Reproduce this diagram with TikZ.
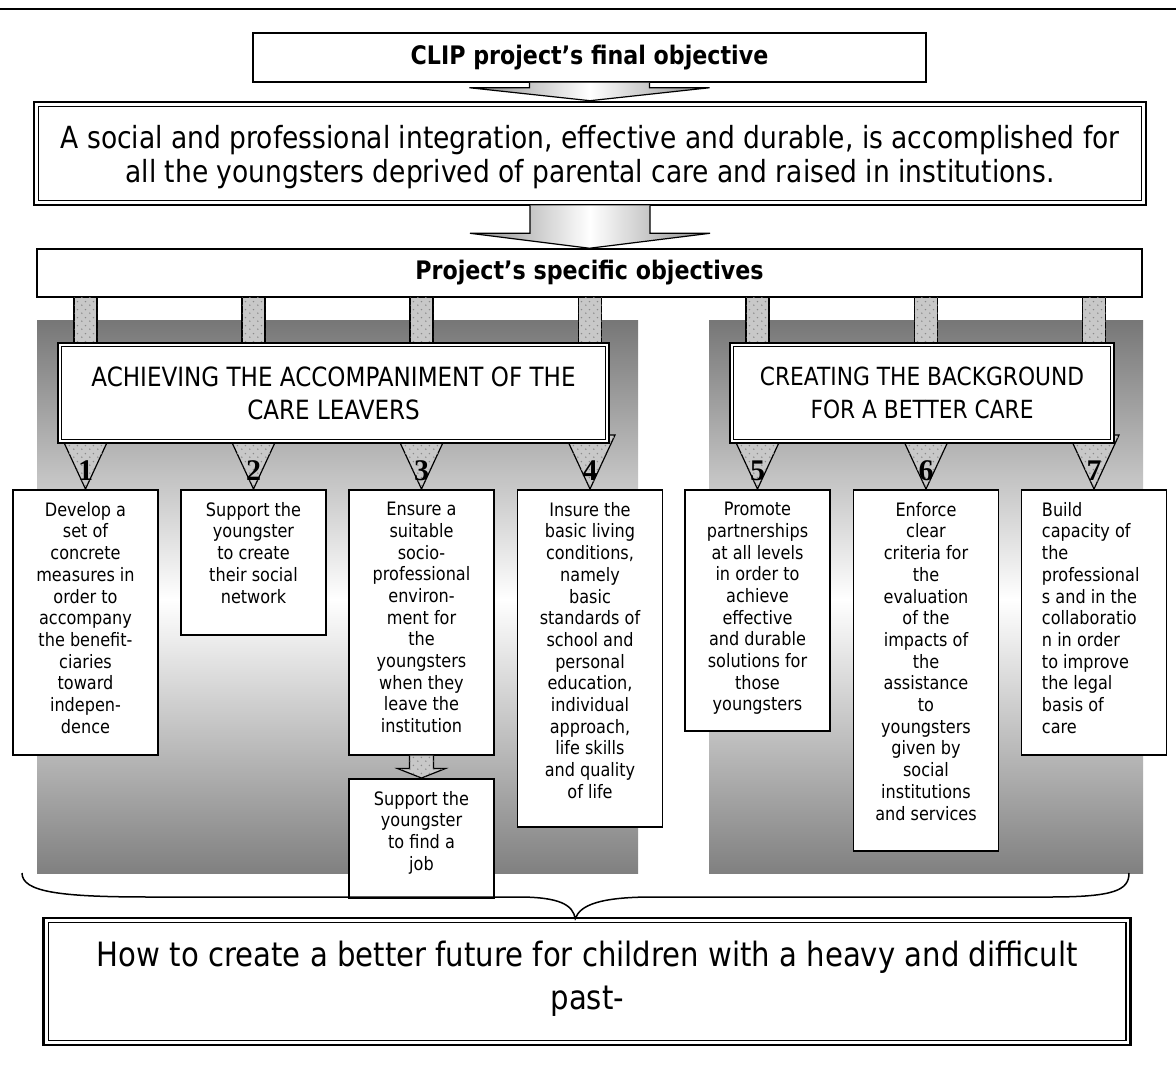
\documentclass[tikz,border=0pt]{standalone}
\usepackage{fontspec}
\setmainfont{DejaVu Sans}[FakeStretch=0.87]
\newfontfamily\digitfont{Liberation Serif}
\usetikzlibrary{calc,patterns.meta}

\definecolor{panelgray}{HTML}{777777}
\definecolor{panelbottom}{HTML}{808080}
\definecolor{dotbase}{HTML}{C8C8C8}
\definecolor{dotink}{HTML}{8A8A8A}
\definecolor{arrowedge}{HTML}{8C8C8C}

% sparse staggered dots used inside the small connectors
\tikzdeclarepattern{
  name=sparsedots,
  type=uncolored,
  bounding box={(0pt,0pt) and (8pt,8pt)},
  tile size={(8pt,8pt)},
  code={
    \pgfpathcircle{\pgfpoint{2pt}{2pt}}{0.9pt}
    \pgfpathcircle{\pgfpoint{6pt}{6pt}}{0.9pt}
    \pgfusepath{fill}
  }
}

\tikzset{
  plainbox/.style={draw, line width=1.5pt, fill=white, inner sep=0pt},
  frameouter/.style={draw, line width=2.6pt, fill=white, inner sep=0pt},
  frameinner/.style={draw, line width=1.2pt},
  boxtext/.style={inner sep=0pt, align=center, font=\fontsize{18.5}{21.7}\selectfont},
  titletext/.style={font=\fontsize{25.5}{30}\selectfont\bfseries},
  headtext/.style={align=center, font=\fontsize{26.5}{33}\selectfont},
  dotfill/.style={fill=dotbase, postaction={pattern=sparsedots, pattern color=dotink}},
  dotedge/.style={dotfill, draw, line width=1.2pt},
  fatarrow/.style={left color=arrowedge, right color=arrowedge, middle color=white, draw, line width=1.2pt},
  digit/.style={inner sep=0pt, font=\fontsize{30}{30}\digitfont\bfseries}
}

\newcommand{\innerframe}[2]{%
  \draw[frameinner] ([shift={(#2,#2)}]#1.north west) rectangle ([shift={(-#2,-#2)}]#1.south east);}

\begin{document}
\begin{tikzpicture}[x=1pt,y=-1pt]
\useasboundingbox (0,0) rectangle (1176,1075);
\fill[white] (0,0) rectangle (1176,1075);

% rule across the top
\draw[line width=2pt] (0,9) -- (1176,9);

% shaded panels behind the two groups
\shade[top color=panelgray, bottom color=white] (37,321) rectangle (638,600);
\shade[top color=white, bottom color=panelbottom] (37,599.5) rectangle (638,873);
\shade[top color=panelgray, bottom color=white] (709,321) rectangle (1143,600);
\shade[top color=white, bottom color=panelbottom] (709,599.5) rectangle (1143,873);

% final objective
\node[plainbox, titletext, minimum width=673pt, minimum height=49pt] (clip) at (589.5,57.5)
  {CLIP project’s final objective};
\node[frameouter, minimum width=1112pt, minimum height=103pt] (goal) at (590,153.5) {};
\innerframe{goal}{6}
\node[inner sep=0pt, align=center, font=\fontsize{30.5}{34}\selectfont] (goaltext)
  at ($(goal.center)+(0,4)$)
  {A social and professional integration, effective and durable, is accomplished for\\
   all the youngsters deprived of parental care and raised in institutions.};
\node[plainbox, titletext, minimum width=1105pt, minimum height=48pt] (spec) at (589.5,273)
  {Project’s specific objectives};

% wide shaded arrows
\shadedraw[fatarrow] ($(clip.south)+(-60,0)$) -- ($(clip.south)+(-60,5)$) -- ($(clip.south)+(-120,5)$)
  -- (goal.north) -- ($(clip.south)+(120,5)$) -- ($(clip.south)+(60,5)$) -- ($(clip.south)+(60,0)$);
\shadedraw[fatarrow] ($(goal.south)+(-60,-1)$) -- ($(goal.south)+(-60,27)$) -- ($(goal.south)+(-120,27)$)
  -- (spec.north) -- ($(goal.south)+(120,27)$) -- ($(goal.south)+(60,27)$) -- ($(goal.south)+(60,-1)$);

% objective boxes
\node[plainbox, minimum width=145pt, minimum height=265pt, anchor=north] (o1) at (85.5,489) {};
\node[plainbox, minimum width=145pt, minimum height=145pt, anchor=north] (o2) at (253.5,489) {};
\node[plainbox, minimum width=145pt, minimum height=265pt, anchor=north] (o3) at (421.5,489) {};
\node[plainbox, minimum width=145pt, minimum height=337pt, anchor=north] (o4) at (590,489) {};
\node[plainbox, minimum width=145pt, minimum height=241pt, anchor=north] (o5) at (757.5,489) {};
\node[plainbox, minimum width=145pt, minimum height=361pt, anchor=north] (o6) at (926,489) {};
\node[plainbox, minimum width=145pt, minimum height=265pt, anchor=north] (o7) at (1094,489) {};
\node[plainbox, minimum width=145pt, minimum height=119pt, anchor=north] (job) at (421.5,778) {};

% group header positions (the headers are drawn after their stems and triangles)
\coordinate (hlc) at (333.5,393);
\coordinate (hrc) at (922,393);
\path (hlc) ++(0,-50) coordinate (hltop) ++(0,100) coordinate (hlbot);
\path (hrc) ++(0,-50) coordinate (hrtop) ++(0,100) coordinate (hrbot);

% stems from the specific objectives bar
\foreach \o/\t in {o1/hltop,o2/hltop,o3/hltop,o4/hltop,o5/hrtop,o6/hrtop,o7/hrtop}{
  \path[dotedge] ($(spec.south -| \o.north)+(-11.5,0)$) rectangle ($(\t -| \o.north)+(11.5,0)$);
}
% numbered triangles
\foreach \o/\t in {o1/hlbot,o2/hlbot,o3/hlbot,o4/hlbot,o5/hrbot,o6/hrbot,o7/hrbot}{
  \path[dotedge] ($(\t -| \o.north)+(-25,-8)$) -- ($(\t -| \o.north)+(25,-8)$) -- (\o.north) -- cycle;
}

\node[frameouter, headtext, minimum width=551pt, minimum height=100pt] (hleft) at (hlc)
  {ACHIEVING THE ACCOMPANIMENT OF THE\\CARE LEAVERS};
\innerframe{hleft}{5}
\node[frameouter, headtext, font=\fontsize{25}{33}\selectfont, minimum width=384pt, minimum height=100pt] (hright) at (hrc)
  {CREATING THE BACKGROUND\\FOR A BETTER CARE};
\innerframe{hright}{5}

% numbers
\foreach \o/\n in {o1/1,o2/2,o3/3,o4/4,o5/5,o6/6,o7/7}{
  \node[digit] (n\n) at ($(\o.north)+(0,-18)$) {\n};
}

% box texts
\node[boxtext, anchor=north] (t1) at ($(o1.north)+(0,13)$)
  {Develop a\\set of\\concrete\\measures in\\order to\\accompany\\the benefit-\\ciaries\\toward\\indepen-\\dence};
\node[boxtext, anchor=north] (t2) at ($(o2.north)+(0,13)$)
  {Support the\\youngster\\to create\\their social\\network};
\node[boxtext, anchor=north] (t3) at ($(o3.north)+(0,13)$)
  {Ensure a\\suitable\\socio-\\professional\\environ-\\ment for\\the\\youngsters\\when they\\leave the\\institution};
\node[boxtext, anchor=north] (t4) at ($(o4.north)+(0,13)$)
  {Insure the\\basic living\\conditions,\\namely\\basic\\standards of\\school and\\personal\\education,\\individual\\approach,\\life skills\\and quality\\of life};
\node[boxtext, anchor=north] (t5) at ($(o5.north)+(0,13)$)
  {Promote\\partnerships\\at all levels\\in order to\\achieve\\effective\\and durable\\solutions for\\those\\youngsters};
\node[boxtext, anchor=north] (t6) at ($(o6.north)+(0,13)$)
  {Enforce\\clear\\criteria for\\the\\evaluation\\of the\\impacts of\\the\\assistance\\to\\youngsters\\given by\\social\\institutions\\and services};
\node[boxtext, align=left, anchor=north west] (t7) at ($(o7.north west)+(21,13)$)
  {Build\\capacity of\\the\\professional\\s and in the\\collaboratio\\n in order\\to improve\\the legal\\basis of\\care};
\node[boxtext, anchor=north] (tj) at ($(job.north)+(0,13)$)
  {Support the\\youngster\\to find a\\job};

% small arrow towards the job box
\path[dotedge] ($(o3.south)+(-12,0)$) -- ($(o3.south)+(-12,13)$) -- ($(o3.south)+(-24,13)$)
  -- (job.north) -- ($(o3.south)+(24,13)$) -- ($(o3.south)+(12,13)$) -- ($(o3.south)+(12,0)$);

% closing question
\node[frameouter, minimum width=1087pt, minimum height=127pt] (final) at (587.25,981.5) {};
\innerframe{final}{6}
\node[inner sep=0pt, align=center, font=\fontsize{33.5}{43}\selectfont, anchor=north] (finaltext)
  at ($(final.north)+(0,24)$)
  {How to create a better future for children with a heavy and difficult\\past-};

% brace gathering both groups
\coordinate (braceL) at (22,873);
\coordinate (braceR) at (1129,873);
\draw[line width=1.5pt] (braceL) .. controls (22,892) and (60,897) .. (150,897) -- (518,897)
  .. controls (560,897) and (573,905) .. ($(final.north)+(-12,2)$)
  .. controls (580,905) and (600,897) .. (653,897) -- (1050,897)
  .. controls (1115,897) and (1129,890) .. (braceR);
\end{tikzpicture}
\end{document}
